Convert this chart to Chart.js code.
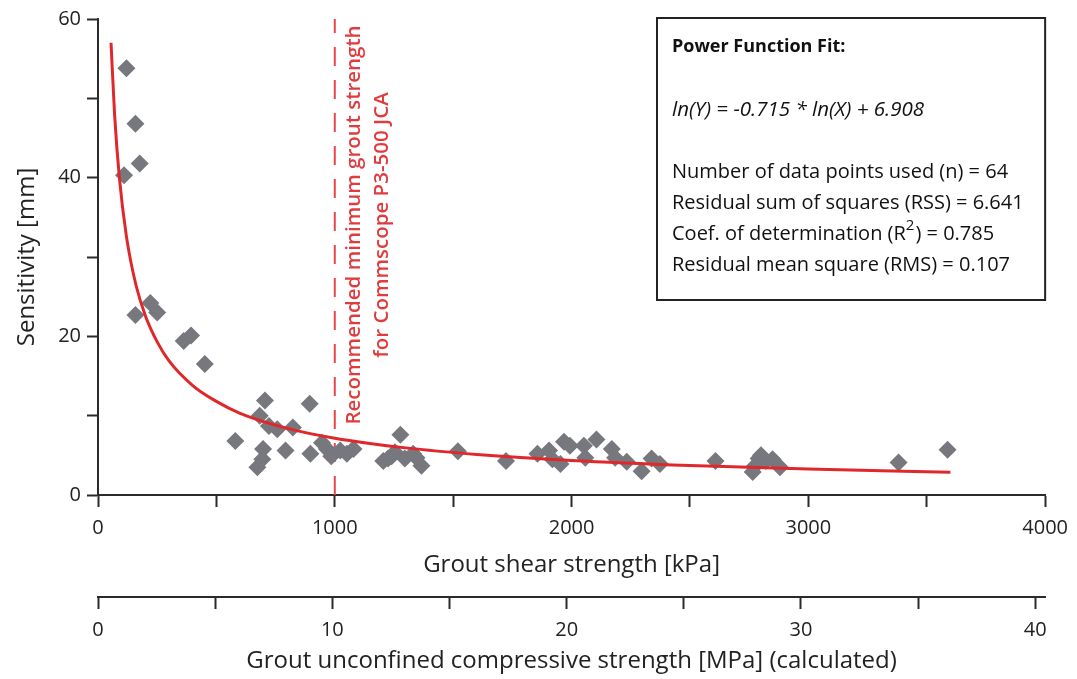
<!DOCTYPE html>
<html>
<head>
<meta charset="utf-8">
<script src="https://cdn.jsdelivr.net/npm/chart.js@4"></script>
<style>
  html, body { margin: 0; padding: 0; background: #fff; }
  #wrap { width: 1077px; height: 679px; }
</style>
</head>
<body>
<div id="wrap"><canvas id="chart"></canvas></div>
<script>
// measured points: grout shear strength [kPa] vs sensitivity [mm]
const shearKpa = [110, 120, 158, 176, 158, 221, 250, 362, 393, 451,
  580, 705, 683, 722, 757, 823, 894, 697, 694, 673,
  792, 897, 946, 967, 985, 1023, 1051, 1079, 1277, 1205,
  1225, 1240, 1254, 1296, 1331, 1345, 1366, 1520, 1723, 1856,
  1905, 1919, 1953, 1968, 1993, 2052, 2058, 2105, 2170, 2184,
  2233, 2296, 2338, 2373, 2608, 2765, 2772, 2790, 2800, 2821,
  2849, 2880, 3381, 3588];
const sensitivity = [40.3, 53.8, 46.8, 41.8, 22.7, 24.2, 23.0, 19.4, 20.1, 16.5,
  6.8, 11.9, 10.0, 8.7, 8.3, 8.5, 11.5, 5.8, 4.5, 3.5,
  5.6, 5.2, 6.6, 5.8, 4.9, 5.6, 5.2, 5.8, 7.6, 4.3,
  4.6, 4.9, 5.4, 4.6, 5.2, 4.7, 3.7, 5.5, 4.3, 5.2,
  5.6, 4.5, 3.9, 6.7, 6.2, 6.2, 4.7, 7.0, 5.8, 4.7,
  4.2, 3.0, 4.6, 3.9, 4.3, 2.9, 3.6, 4.6, 5.0, 4.3,
  4.5, 3.5, 4.1, 5.7];

// power fit curve
const fitX = [55, 70, 90, 120, 160, 200, 250, 300, 400, 500, 600, 800, 1000, 1300, 1600, 2000, 2500, 3000, 3600];
const fitY = [57.0, 48.0, 40.1, 32.6, 26.5, 22.6, 19.3, 16.9, 13.8, 11.8, 10.3, 8.4, 7.16, 5.94, 5.12, 4.36, 3.72, 3.27, 2.87];

// recommended minimum strength marker
const minStrengthX = [1000, 1000];
const minStrengthY = [0, 60];

const boxLines = [
  'Number of data points used (n) = 64',
  'Residual sum of squares (RSS) = 6.641',
  'Coef. of determination (R|2|) = 0.785',
  'Residual mean square (RMS) = 0.107'
];

const FONT = "'Open Sans', 'DejaVu Sans', sans-serif";
const AXIS = '#2b2b2b';
const RED = '#e0282c';

function toPoints(xs, ys) {
  return xs.map(function(x, i) { return { x: x, y: ys[i] }; });
}

// draws the fit info box and the rotated note
const notesPlugin = {
  id: 'notes',
  afterDraw: function(chart) {
    const ctx = chart.ctx;
    const area = chart.chartArea;
    const xs = chart.scales.x;

    // rotated note next to the dashed line
    const lx = xs.getPixelForValue(1000);
    ctx.save();
    ctx.fillStyle = '#e23b3e';
    ctx.textAlign = 'center';
    ctx.textBaseline = 'middle';
    ctx.font = '600 20.5px ' + FONT;
    ctx.translate(lx + 19, 225);
    ctx.rotate(-Math.PI / 2);
    ctx.fillText('Recommended minimum grout strength', 0, 0);
    ctx.fillText('for Commscope P3-500 JCA', 0, 28);
    ctx.restore();

    // info box
    const bx = 657, by = area.top - 1, bw = area.right - 657, bh = 282;
    ctx.save();
    ctx.fillStyle = '#fff';
    ctx.fillRect(bx, by, bw, bh);
    ctx.strokeStyle = '#222';
    ctx.lineWidth = 2;
    ctx.strokeRect(bx, by, bw, bh);

    ctx.fillStyle = '#111';
    ctx.textAlign = 'left';
    ctx.textBaseline = 'middle';
    ctx.font = 'bold 18px ' + FONT;
    ctx.fillText('Power Function Fit:', 672, 47);
    ctx.font = 'italic 20.5px ' + FONT;
    ctx.fillText('ln(Y) = -0.715 * ln(X) + 6.908', 672, 110);

    ctx.font = '20px ' + FONT;
    boxLines.forEach(function(line, i) {
      const y = 172 + i * 31;
      const parts = line.split('|');
      let x = 672;
      parts.forEach(function(p, j) {
        if (j === 1) {
          ctx.font = '15px ' + FONT;
          ctx.fillText(p, x, y - 8);
          x += ctx.measureText(p).width + 1;
          ctx.font = '20px ' + FONT;
        } else {
          ctx.fillText(p, x, y);
          x += ctx.measureText(p).width;
        }
      });
    });
    ctx.restore();
  }
};

const ctx = document.getElementById('chart').getContext('2d');

new Chart(ctx, {
  type: 'scatter',
  data: {
    datasets: [
      {
        label: 'Power fit',
        type: 'line',
        data: toPoints(fitX, fitY),
        borderColor: RED,
        borderWidth: 3,
        pointRadius: 0,
        cubicInterpolationMode: 'monotone',
        fill: false,
        order: 0
      },
      {
        label: 'Min strength',
        type: 'line',
        data: toPoints(minStrengthX, minStrengthY),
        borderColor: '#e8474a',
        borderWidth: 2,
        borderDash: [19, 14],
        pointRadius: 0,
        fill: false,
        order: 2
      },
      {
        label: 'Measured',
        data: toPoints(shearKpa, sensitivity),
        pointStyle: 'rectRot',
        pointRadius: 9,
        backgroundColor: '#77777e',
        borderColor: '#77777e',
        borderWidth: 0,
        order: 1
      }
    ]
  },
  options: {
    responsive: true,
    maintainAspectRatio: false,
    animation: false,
    layout: { padding: { top: 19, right: 27, left: 0, bottom: 0 } },
    plugins: {
      legend: { display: false },
      tooltip: { enabled: false }
    },
    scales: {
      x: {
        type: 'linear',
        position: 'bottom',
        min: 0,
        max: 4000,
        border: { color: AXIS, width: 2 },
        grid: { drawOnChartArea: false, tickColor: AXIS, tickWidth: 2, tickLength: 12 },
        ticks: {
          stepSize: 500,
          autoSkip: false,
          maxRotation: 0,
          padding: 9,
          color: '#222',
          font: { family: FONT, size: 20 },
          callback: function(v) { return v % 1000 === 0 ? v : ''; }
        },
        title: {
          display: true,
          text: 'Grout shear strength [kPa]',
          color: '#222',
          font: { family: FONT, size: 24 },
          padding: { top: 0, bottom: 17 }
        },
        afterFit: function(scale) { scale.height = 102; }
      },
      x2: {
        type: 'linear',
        position: 'bottom',
        display: true,
        min: 0,
        max: 40.42,
        border: { color: AXIS, width: 2 },
        grid: { drawOnChartArea: false, tickColor: AXIS, tickWidth: 2, tickLength: 12 },
        ticks: {
          stepSize: 5,
          includeBounds: false,
          autoSkip: false,
          maxRotation: 0,
          padding: 9,
          color: '#222',
          font: { family: FONT, size: 20 },
          callback: function(v) { return v % 10 === 0 ? v : ''; }
        },
        title: {
          display: true,
          text: 'Grout unconfined compressive strength [MPa] (calculated)',
          color: '#222',
          font: { family: FONT, size: 24 },
          padding: { top: 0, bottom: 3 }
        },
        afterFit: function(scale) { scale.height = 82; }
      },
      y: {
        min: 0,
        max: 60,
        border: { color: AXIS, width: 2 },
        grid: { drawOnChartArea: false, tickColor: AXIS, tickWidth: 2, tickLength: 11 },
        ticks: {
          stepSize: 10,
          autoSkip: false,
          padding: 6,
          color: '#222',
          font: { family: FONT, size: 20 },
          callback: function(v) { return v % 20 === 0 ? v : ''; }
        },
        title: {
          display: true,
          text: 'Sensitivity [mm]',
          color: '#222',
          font: { family: FONT, size: 24 },
          padding: { top: 13, bottom: 0 }
        },
        afterFit: function(scale) { scale.width = 98; }
      }
    }
  },
  plugins: [notesPlugin]
});
</script>
</body>
</html>
